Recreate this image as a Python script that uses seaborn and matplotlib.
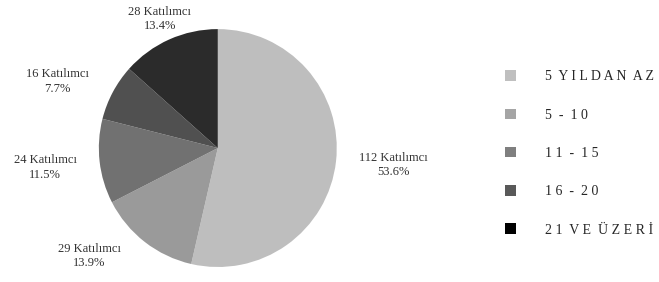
import numpy as np
import matplotlib
matplotlib.use("Agg")
import matplotlib.pyplot as plt
import matplotlib.patches as mpatches
import seaborn as sns

categories = ["5 YILDAN AZ", "5 - 10", "11 - 15", "16 - 20", "21 VE ÜZERİ"]
counts = [112, 29, 24, 16, 28]
pie_colors = ["#bebebe", "#9a9a9a", "#717171", "#505050", "#2b2b2b"]
legend_colors = ["#bfbfbf", "#a5a5a5", "#7f7f7f", "#595959", "#000000"]

sns.set_theme(style="white")
plt.rcParams["font.family"] = ["Liberation Serif", "DejaVu Serif"]


def spaced(text):
    # imitate the wide letter spacing of the legend
    return "  ".join(" ".join(word) for word in text.split(" "))


fig = plt.figure(figsize=(6.59, 2.82), dpi=100)
ax = fig.add_axes([0.150, 0.053, 0.361, 0.844])

wedges, _ = ax.pie(counts, colors=pie_colors, startangle=90, counterclock=False,
                   radius=1.0, wedgeprops=dict(linewidth=0))
ax.set_xlim(-1, 1)
ax.set_ylim(-1, 1)
ax.set_aspect("equal")

total = sum(counts)
label_dist = [1.48, 1.41, 1.46, 1.46, 1.19]
angle_nudge = [1, -12, 0, 5.5, 0]
for w, c, d, n in zip(wedges, counts, label_dist, angle_nudge):
    mid = np.deg2rad((w.theta1 + w.theta2) / 2 + n)
    ax.text(d * np.cos(mid), d * np.sin(mid),
            f"{c} Katılımcı\n{100 * c / total:.1f}%",
            ha="center", va="center", fontsize=9, color="#333333",
            linespacing=1.25, clip_on=False)

handles = [mpatches.Patch(facecolor=col, edgecolor="none") for col in legend_colors]
fig.legend(handles, [spaced(c) for c in categories], loc="center left",
           bbox_to_anchor=(0.747, 0.456), frameon=False, fontsize=10,
           labelspacing=1.81, handlelength=0.8, handleheight=0.8,
           handletextpad=2.1, labelcolor="#262626")

fig.savefig("out.png", dpi=100)
